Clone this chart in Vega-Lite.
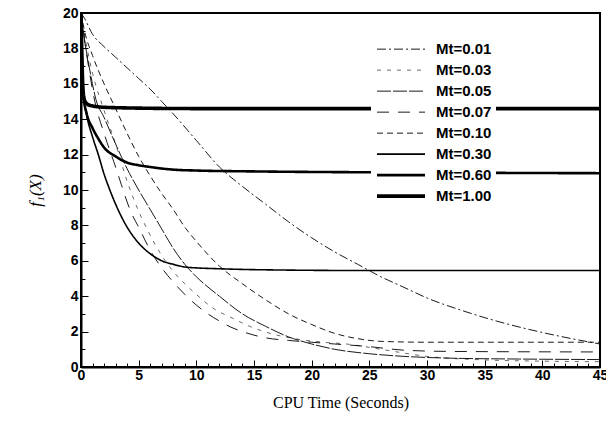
{
  "$schema": "https://vega.github.io/schema/vega-lite/v6.json",
  "width": 519,
  "height": 354,
  "autosize": "none",
  "padding": {"left": 81, "top": 13, "right": 6, "bottom": 60},
  "background": "white",
  "config": {
    "view": {"stroke": "black", "strokeWidth": 2},
    "axis": {"grid": false, "domainColor": "black", "domainWidth": 2, "tickColor": "black", "labelColor": "black", "titleColor": "black"}
  },
  "data": {"values": [
    {"Mt": "Mt=1.00", "t": 0, "f": 20}, {"Mt": "Mt=1.00", "t": 0.08, "f": 17.5}, {"Mt": "Mt=1.00", "t": 0.18, "f": 15.6}, {"Mt": "Mt=1.00", "t": 0.35, "f": 15.0}, {"Mt": "Mt=1.00", "t": 0.7, "f": 14.8}, {"Mt": "Mt=1.00", "t": 1.5, "f": 14.7}, {"Mt": "Mt=1.00", "t": 3, "f": 14.65}, {"Mt": "Mt=1.00", "t": 10, "f": 14.6}, {"Mt": "Mt=1.00", "t": 45, "f": 14.6},
    {"Mt": "Mt=0.60", "t": 0, "f": 20}, {"Mt": "Mt=0.60", "t": 0.08, "f": 17.5}, {"Mt": "Mt=0.60", "t": 0.2, "f": 15.4}, {"Mt": "Mt=0.60", "t": 0.5, "f": 14.3}, {"Mt": "Mt=0.60", "t": 1, "f": 13.5}, {"Mt": "Mt=0.60", "t": 1.5, "f": 12.9}, {"Mt": "Mt=0.60", "t": 2, "f": 12.4}, {"Mt": "Mt=0.60", "t": 3, "f": 11.9}, {"Mt": "Mt=0.60", "t": 4, "f": 11.55}, {"Mt": "Mt=0.60", "t": 5, "f": 11.4}, {"Mt": "Mt=0.60", "t": 6, "f": 11.3}, {"Mt": "Mt=0.60", "t": 8, "f": 11.15}, {"Mt": "Mt=0.60", "t": 10, "f": 11.1}, {"Mt": "Mt=0.60", "t": 15, "f": 11.05}, {"Mt": "Mt=0.60", "t": 25, "f": 11.0}, {"Mt": "Mt=0.60", "t": 45, "f": 10.95},
    {"Mt": "Mt=0.30", "t": 0, "f": 20}, {"Mt": "Mt=0.30", "t": 0.08, "f": 17.5}, {"Mt": "Mt=0.30", "t": 0.2, "f": 15.4}, {"Mt": "Mt=0.30", "t": 0.5, "f": 14.2}, {"Mt": "Mt=0.30", "t": 1, "f": 13}, {"Mt": "Mt=0.30", "t": 1.5, "f": 12}, {"Mt": "Mt=0.30", "t": 2, "f": 10.9}, {"Mt": "Mt=0.30", "t": 2.5, "f": 10}, {"Mt": "Mt=0.30", "t": 3, "f": 9.2}, {"Mt": "Mt=0.30", "t": 3.5, "f": 8.5}, {"Mt": "Mt=0.30", "t": 4, "f": 7.9}, {"Mt": "Mt=0.30", "t": 5, "f": 7.0}, {"Mt": "Mt=0.30", "t": 6, "f": 6.4}, {"Mt": "Mt=0.30", "t": 7, "f": 6.0}, {"Mt": "Mt=0.30", "t": 8, "f": 5.8}, {"Mt": "Mt=0.30", "t": 9, "f": 5.65}, {"Mt": "Mt=0.30", "t": 10, "f": 5.6}, {"Mt": "Mt=0.30", "t": 12, "f": 5.55}, {"Mt": "Mt=0.30", "t": 15, "f": 5.5}, {"Mt": "Mt=0.30", "t": 25, "f": 5.45}, {"Mt": "Mt=0.30", "t": 45, "f": 5.45},
    {"Mt": "Mt=0.01", "t": 0, "f": 20}, {"Mt": "Mt=0.01", "t": 0.3, "f": 19.7}, {"Mt": "Mt=0.01", "t": 1, "f": 18.8}, {"Mt": "Mt=0.01", "t": 2, "f": 18.1}, {"Mt": "Mt=0.01", "t": 3, "f": 17.5}, {"Mt": "Mt=0.01", "t": 4, "f": 16.9}, {"Mt": "Mt=0.01", "t": 5, "f": 16.3}, {"Mt": "Mt=0.01", "t": 6, "f": 15.7}, {"Mt": "Mt=0.01", "t": 7, "f": 15.0}, {"Mt": "Mt=0.01", "t": 8, "f": 14.3}, {"Mt": "Mt=0.01", "t": 10, "f": 12.8}, {"Mt": "Mt=0.01", "t": 12, "f": 11.3}, {"Mt": "Mt=0.01", "t": 14, "f": 10.2}, {"Mt": "Mt=0.01", "t": 16, "f": 9.2}, {"Mt": "Mt=0.01", "t": 18, "f": 8.2}, {"Mt": "Mt=0.01", "t": 20, "f": 7.3}, {"Mt": "Mt=0.01", "t": 22, "f": 6.5}, {"Mt": "Mt=0.01", "t": 24, "f": 5.8}, {"Mt": "Mt=0.01", "t": 26, "f": 5.1}, {"Mt": "Mt=0.01", "t": 28, "f": 4.5}, {"Mt": "Mt=0.01", "t": 30, "f": 3.9}, {"Mt": "Mt=0.01", "t": 33, "f": 3.2}, {"Mt": "Mt=0.01", "t": 36, "f": 2.6}, {"Mt": "Mt=0.01", "t": 40, "f": 1.95}, {"Mt": "Mt=0.01", "t": 45, "f": 1.3},
    {"Mt": "Mt=0.10", "t": 0, "f": 20}, {"Mt": "Mt=0.10", "t": 0.3, "f": 19}, {"Mt": "Mt=0.10", "t": 1, "f": 17.6}, {"Mt": "Mt=0.10", "t": 2, "f": 16}, {"Mt": "Mt=0.10", "t": 3, "f": 14.6}, {"Mt": "Mt=0.10", "t": 4, "f": 13.2}, {"Mt": "Mt=0.10", "t": 5, "f": 11.9}, {"Mt": "Mt=0.10", "t": 6, "f": 10.8}, {"Mt": "Mt=0.10", "t": 7, "f": 9.8}, {"Mt": "Mt=0.10", "t": 8, "f": 8.9}, {"Mt": "Mt=0.10", "t": 9, "f": 7.9}, {"Mt": "Mt=0.10", "t": 10, "f": 7.1}, {"Mt": "Mt=0.10", "t": 12, "f": 5.7}, {"Mt": "Mt=0.10", "t": 14, "f": 4.7}, {"Mt": "Mt=0.10", "t": 16, "f": 3.8}, {"Mt": "Mt=0.10", "t": 18, "f": 3.0}, {"Mt": "Mt=0.10", "t": 20, "f": 2.4}, {"Mt": "Mt=0.10", "t": 22, "f": 1.9}, {"Mt": "Mt=0.10", "t": 24, "f": 1.6}, {"Mt": "Mt=0.10", "t": 26, "f": 1.45}, {"Mt": "Mt=0.10", "t": 30, "f": 1.4}, {"Mt": "Mt=0.10", "t": 45, "f": 1.4},
    {"Mt": "Mt=0.05", "t": 0, "f": 20}, {"Mt": "Mt=0.05", "t": 0.3, "f": 18.5}, {"Mt": "Mt=0.05", "t": 0.7, "f": 17}, {"Mt": "Mt=0.05", "t": 1.3, "f": 15.1}, {"Mt": "Mt=0.05", "t": 2, "f": 14.1}, {"Mt": "Mt=0.05", "t": 3, "f": 12.6}, {"Mt": "Mt=0.05", "t": 4, "f": 11.2}, {"Mt": "Mt=0.05", "t": 5, "f": 10.0}, {"Mt": "Mt=0.05", "t": 6, "f": 8.9}, {"Mt": "Mt=0.05", "t": 7, "f": 7.8}, {"Mt": "Mt=0.05", "t": 8, "f": 6.7}, {"Mt": "Mt=0.05", "t": 9, "f": 5.8}, {"Mt": "Mt=0.05", "t": 10, "f": 5.1}, {"Mt": "Mt=0.05", "t": 12, "f": 4.0}, {"Mt": "Mt=0.05", "t": 14, "f": 3.0}, {"Mt": "Mt=0.05", "t": 16, "f": 2.3}, {"Mt": "Mt=0.05", "t": 18, "f": 1.7}, {"Mt": "Mt=0.05", "t": 20, "f": 1.3}, {"Mt": "Mt=0.05", "t": 22, "f": 1.0}, {"Mt": "Mt=0.05", "t": 25, "f": 0.75}, {"Mt": "Mt=0.05", "t": 28, "f": 0.6}, {"Mt": "Mt=0.05", "t": 32, "f": 0.5}, {"Mt": "Mt=0.05", "t": 38, "f": 0.45}, {"Mt": "Mt=0.05", "t": 45, "f": 0.42},
    {"Mt": "Mt=0.07", "t": 0, "f": 20}, {"Mt": "Mt=0.07", "t": 0.3, "f": 18.5}, {"Mt": "Mt=0.07", "t": 0.7, "f": 16.8}, {"Mt": "Mt=0.07", "t": 1.2, "f": 15}, {"Mt": "Mt=0.07", "t": 2, "f": 13.2}, {"Mt": "Mt=0.07", "t": 3, "f": 11.3}, {"Mt": "Mt=0.07", "t": 3.5, "f": 10.3}, {"Mt": "Mt=0.07", "t": 4.3, "f": 8.8}, {"Mt": "Mt=0.07", "t": 5, "f": 7.9}, {"Mt": "Mt=0.07", "t": 6, "f": 6.6}, {"Mt": "Mt=0.07", "t": 7, "f": 5.6}, {"Mt": "Mt=0.07", "t": 8, "f": 4.8}, {"Mt": "Mt=0.07", "t": 9, "f": 4.1}, {"Mt": "Mt=0.07", "t": 10, "f": 3.5}, {"Mt": "Mt=0.07", "t": 11, "f": 3.0}, {"Mt": "Mt=0.07", "t": 12, "f": 2.6}, {"Mt": "Mt=0.07", "t": 13, "f": 2.25}, {"Mt": "Mt=0.07", "t": 14, "f": 2.0}, {"Mt": "Mt=0.07", "t": 15, "f": 1.8}, {"Mt": "Mt=0.07", "t": 16, "f": 1.65}, {"Mt": "Mt=0.07", "t": 18, "f": 1.5}, {"Mt": "Mt=0.07", "t": 20, "f": 1.4}, {"Mt": "Mt=0.07", "t": 22, "f": 1.3}, {"Mt": "Mt=0.07", "t": 25, "f": 1.15}, {"Mt": "Mt=0.07", "t": 28, "f": 0.95}, {"Mt": "Mt=0.07", "t": 32, "f": 0.88}, {"Mt": "Mt=0.07", "t": 45, "f": 0.85},
    {"Mt": "Mt=0.03", "t": 0, "f": 20}, {"Mt": "Mt=0.03", "t": 0.3, "f": 18.8}, {"Mt": "Mt=0.03", "t": 1, "f": 16.6}, {"Mt": "Mt=0.03", "t": 2, "f": 14.5}, {"Mt": "Mt=0.03", "t": 3, "f": 12.6}, {"Mt": "Mt=0.03", "t": 4, "f": 10.5}, {"Mt": "Mt=0.03", "t": 5, "f": 8.8}, {"Mt": "Mt=0.03", "t": 5.8, "f": 7.7}, {"Mt": "Mt=0.03", "t": 7, "f": 6.3}, {"Mt": "Mt=0.03", "t": 8, "f": 5.4}, {"Mt": "Mt=0.03", "t": 9, "f": 4.7}, {"Mt": "Mt=0.03", "t": 10, "f": 4.1}, {"Mt": "Mt=0.03", "t": 11.5, "f": 3.3}, {"Mt": "Mt=0.03", "t": 13, "f": 2.8}, {"Mt": "Mt=0.03", "t": 15, "f": 2.2}, {"Mt": "Mt=0.03", "t": 17, "f": 1.8}, {"Mt": "Mt=0.03", "t": 19, "f": 1.55}, {"Mt": "Mt=0.03", "t": 21, "f": 1.4}, {"Mt": "Mt=0.03", "t": 23, "f": 1.3}, {"Mt": "Mt=0.03", "t": 26, "f": 1.0}, {"Mt": "Mt=0.03", "t": 30, "f": 0.6}, {"Mt": "Mt=0.03", "t": 35, "f": 0.4}, {"Mt": "Mt=0.03", "t": 40, "f": 0.33}, {"Mt": "Mt=0.03", "t": 45, "f": 0.3}
  ]},
  "mark": {"type": "line", "color": "black", "interpolate": "monotone", "clip": true},
  "encoding": {
    "x": {
      "field": "t", "type": "quantitative",
      "scale": {"domain": [0, 45], "nice": false, "zero": false},
      "axis": {
        "title": "CPU Time (Seconds)",
        "titleFont": "Liberation Serif", "titleFontSize": 16, "titleFontWeight": "normal", "titlePadding": 9,
        "values": [0,1,2,3,4,5,6,7,8,9,10,11,12,13,14,15,16,17,18,19,20,21,22,23,24,25,26,27,28,29,30,31,32,33,34,35,36,37,38,39,40,41,42,43,44,45],
        "format": "d",
        "labelExpr": "datum.value % 5 === 0 ? datum.label : ''",
        "labelOverlap": false, "labelFlush": false,
        "labelFont": "Liberation Sans", "labelFontSize": 14, "labelFontWeight": "bold", "labelPadding": 8,
        "tickSize": {"condition": {"test": "datum.value % 5 === 0", "value": -7}, "value": -4},
        "tickWidth": 1
      }
    },
    "y": {
      "field": "f", "type": "quantitative",
      "scale": {"domain": [0, 20], "nice": false},
      "axis": {
        "title": "f₁(X)",
        "titleFont": "Liberation Serif", "titleFontSize": 17, "titleFontStyle": "italic", "titleFontWeight": "normal", "titlePadding": 18,
        "values": [0,0.5,1,1.5,2,2.5,3,3.5,4,4.5,5,5.5,6,6.5,7,7.5,8,8.5,9,9.5,10,10.5,11,11.5,12,12.5,13,13.5,14,14.5,15,15.5,16,16.5,17,17.5,18,18.5,19,19.5,20],
        "format": "d",
        "labelExpr": "datum.value % 2 === 0 ? datum.label : ''",
        "labelOverlap": false, "labelFlush": false,
        "labelFont": "Liberation Sans", "labelFontSize": 14, "labelFontWeight": "bold", "labelPadding": 10,
        "tickSize": {"condition": {"test": "datum.value % 2 === 0", "value": -7}, "value": -4},
        "tickWidth": 1
      }
    },
    "strokeDash": {
      "field": "Mt", "type": "ordinal",
      "scale": {
        "type": "ordinal",
        "domain": ["Mt=0.01", "Mt=0.03", "Mt=0.05", "Mt=0.07", "Mt=0.10", "Mt=0.30", "Mt=0.60", "Mt=1.00"],
        "range": [[9, 3, 2, 3], [4, 6], [14, 2], [12, 9], [6, 4], [1, 0], [1, 0], [1, 0]]
      },
      "legend": {
        "title": null, "orient": "none", "legendX": 290, "legendY": 22, "padding": 4, "fillColor": "white", "strokeColor": null,
        "symbolType": "stroke", "symbolSize": 2304, "symbolStrokeColor": "black",
        "clipHeight": 20.3, "rowPadding": 0, "labelOffset": 9,
        "labelFont": "Liberation Sans", "labelFontSize": 15, "labelFontWeight": "bold", "labelColor": "black"
      }
    },
    "strokeWidth": {
      "field": "Mt", "type": "ordinal",
      "scale": {
        "type": "ordinal",
        "domain": ["Mt=0.01", "Mt=0.03", "Mt=0.05", "Mt=0.07", "Mt=0.10", "Mt=0.30", "Mt=0.60", "Mt=1.00"],
        "range": [0.9, 0.6, 0.9, 0.9, 0.9, 1.6, 2.6, 3.6]
      },
      "legend": {
        "title": null, "orient": "none", "legendX": 290, "legendY": 22, "padding": 4, "fillColor": "white", "strokeColor": null,
        "symbolType": "stroke", "symbolSize": 2304, "symbolStrokeColor": "black",
        "clipHeight": 20.3, "rowPadding": 0, "labelOffset": 9,
        "labelFont": "Liberation Sans", "labelFontSize": 15, "labelFontWeight": "bold", "labelColor": "black"
      }
    }
  }
}
